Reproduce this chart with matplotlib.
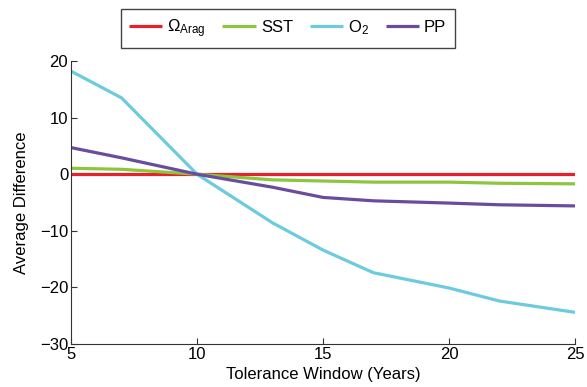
import numpy as np
import matplotlib.pyplot as plt

plt.rcParams['font.family'] = ['Liberation Sans', 'DejaVu Sans']
plt.rcParams['mathtext.fontset'] = 'custom'
plt.rcParams['mathtext.rm'] = 'Liberation Sans'
plt.rcParams['mathtext.it'] = 'Liberation Sans'
plt.rcParams['mathtext.default'] = 'regular'

# tolerance window (years)
window = [5, 7, 10, 13, 15, 17, 20, 22, 25]
# average differences
arag = [0, 0, 0, 0, 0, 0, 0, 0, 0]
sst = [1.05, 0.87, 0, -1.0, -1.2, -1.4, -1.4, -1.6, -1.7]
o2 = [18.2, 13.5, 0, -8.6, -13.4, -17.4, -20.1, -22.4, -24.4]
pp = [4.7, 2.9, 0, -2.3, -4.1, -4.7, -5.1, -5.4, -5.6]

labels = [r'$\Omega_{Arag}$', 'SST', r'O$_2$', 'PP']
colors = ['#e8202a', '#8cc63f', '#6ccbdc', '#6a4c9c']

fig = plt.figure(figsize=(5.87, 3.87), dpi=100)
ax = fig.add_axes([0.121, 0.111, 0.8586, 0.7314])

lines = []
for vals, c in zip([arag, sst, o2, pp], colors):
    l, = ax.plot(window, vals, color=c, linewidth=2.3, solid_capstyle='butt')
    lines.append(l)

ax.set_xlim(5, 25)
ax.set_ylim(-30, 20)
ax.set_xticks([5, 10, 15, 20, 25])
ax.set_yticks([-30, -20, -10, 0, 10, 20])
ax.spines['top'].set_visible(False)
ax.spines['right'].set_visible(False)
for s in ['left', 'bottom']:
    ax.spines[s].set_color('#333333')
    ax.spines[s].set_linewidth(0.8)
ax.tick_params(direction='in', length=4, labelsize=12, colors='#333333', labelcolor='black', pad=2)
ax.set_xlabel('Tolerance Window (Years)', fontsize=12, labelpad=4)
ax.set_ylabel('Average Difference', fontsize=12, labelpad=8)

fig.legend(lines, labels, loc='center', bbox_to_anchor=(0.49, 0.927), ncol=4,
           fancybox=False, edgecolor='#444444', fontsize=12, handlelength=2.0,
           handletextpad=0.3, columnspacing=1.0, borderpad=0.5, framealpha=1)

fig.savefig('out.png', dpi=100)
